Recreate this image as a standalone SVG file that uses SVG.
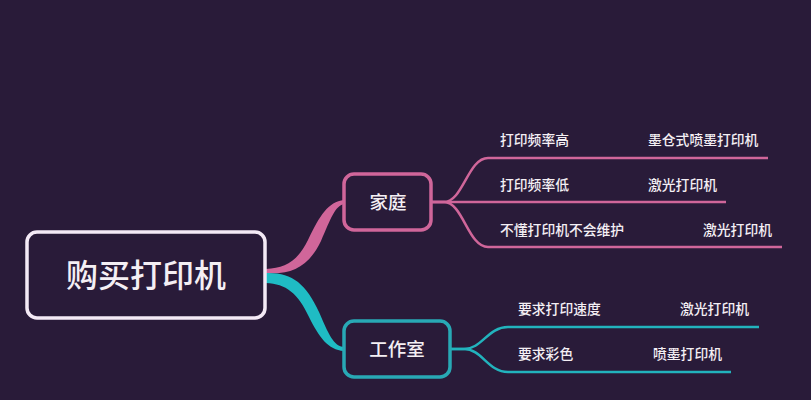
<svg xmlns="http://www.w3.org/2000/svg" width="811" height="400" viewBox="0 0 811 400">
<style>
text{font-family:"Noto Sans CJK SC","Noto Sans",sans-serif;fill:#f4eff4;text-anchor:middle;dominant-baseline:central}
.leaf{font-size:13.8px;text-anchor:start;font-weight:500}
.p{stroke:#d0669a;fill:none}
.c{stroke:#22b3bd;fill:none}
.pf{fill:#d0669a}
.cf{fill:#1fbcc4}
.box{fill:#291b39;stroke-width:3.5}
</style>
<rect width="811" height="400" fill="#291b39"/>
<g id="connectors">
<path class="pf" d="M266 269C285 268 297 262 308 240C320 215 328 202 344 200V204C335 206 331 218 321 241C308 268 290 275 266 273Z"/>
<path class="cf" d="M266 273C291 272 306 283 319 312C328 333 334 347 344 347V351C328 350 319 337 309 317C298 293 286 284 266 283Z"/>
<g stroke-width="2.5">
<path class="p" d="M432 202H444C463 202 468 158 488 158H768"/>
<path class="p" d="M432 202H726"/>
<path class="p" d="M432 202H444C463 202 468 247 488 247H782"/>
</g>
<g stroke-width="2.5">
<path class="c" d="M450 349H464C482 349 488 327 508 327H759"/>
<path class="c" d="M450 349H464C482 349 488 372 508 372H731"/>
</g>
</g>
<g id="root"><rect class="box" x="27" y="232" width="238" height="86" rx="10" stroke="#f4eaf6"/><text x="146" y="273" font-size="32" font-weight="500">购买打印机</text></g>
<g id="jiating"><rect class="box" x="344" y="174" width="87" height="56" rx="10" stroke="#d0669a"/><text x="388" y="201" font-size="18.5" font-weight="500">家庭</text></g>
<g id="gongzuoshi"><rect class="box" x="344" y="321" width="106" height="56" rx="10" stroke="#28a9b5"/><text x="397" y="348" font-size="18.5" font-weight="500">工作室</text></g>
<g id="leaf1"><text class="leaf" x="500" y="139">打印频率高</text></g>
<g id="leaf1b"><text class="leaf" x="648" y="139">墨仓式喷墨打印机</text></g>
<g id="leaf2"><text class="leaf" x="500" y="184">打印频率低</text></g>
<g id="leaf2b"><text class="leaf" x="648" y="184">激光打印机</text></g>
<g id="leaf3"><text class="leaf" x="500" y="229">不懂打印机不会维护</text></g>
<g id="leaf3b"><text class="leaf" x="703" y="229">激光打印机</text></g>
<g id="leaf4"><text class="leaf" x="518" y="308">要求打印速度</text></g>
<g id="leaf4b"><text class="leaf" x="680" y="308">激光打印机</text></g>
<g id="leaf5"><text class="leaf" x="518" y="353">要求彩色</text></g>
<g id="leaf5b"><text class="leaf" x="653" y="353">喷墨打印机</text></g>
</svg>
